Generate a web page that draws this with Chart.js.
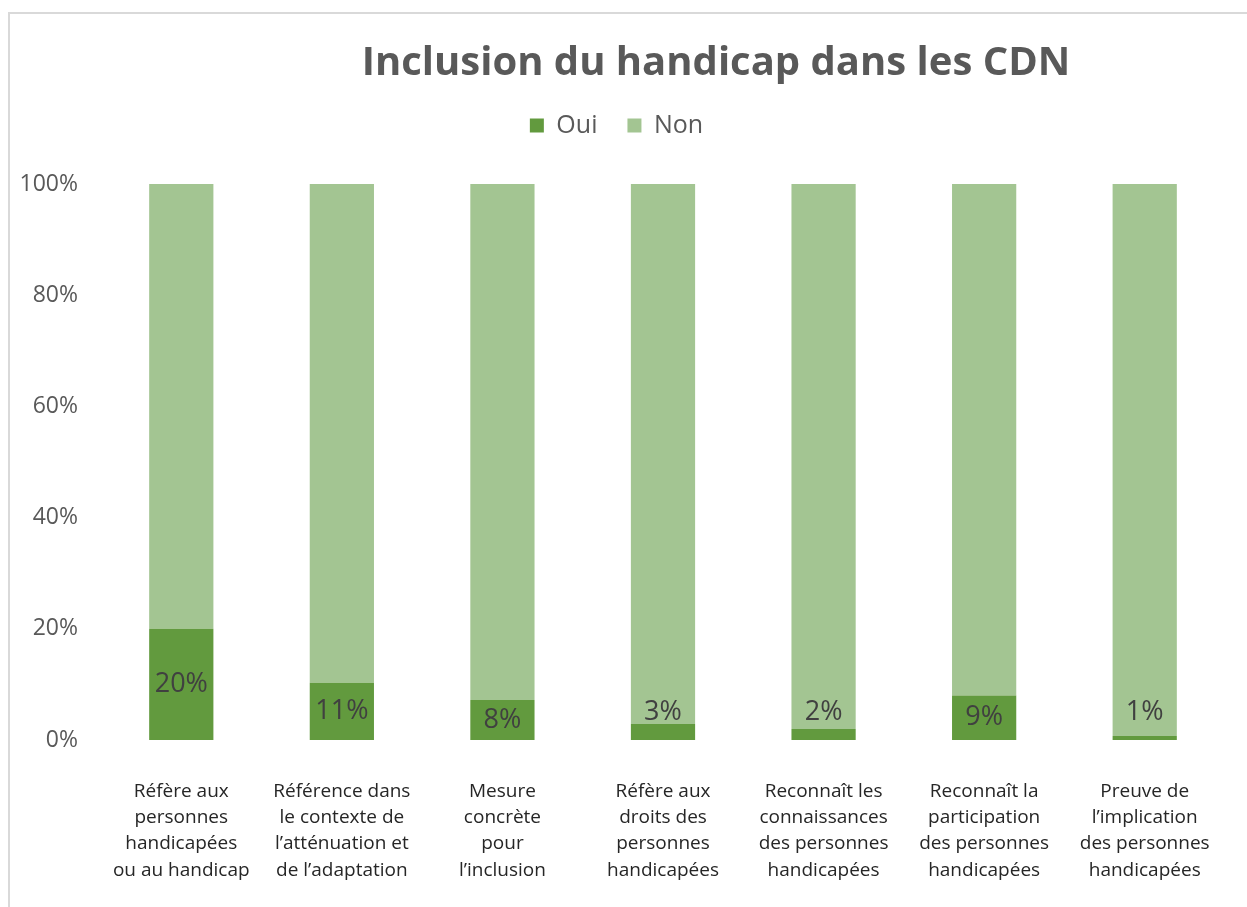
<!DOCTYPE html>
<html lang="fr">
<head>
<meta charset="utf-8">
<title>Inclusion du handicap dans les CDN</title>
<script src="https://cdn.jsdelivr.net/npm/chart.js@4.4.1/dist/chart.umd.min.js"></script>
<style>
  html, body { margin: 0; padding: 0; background: #ffffff; }
  #wrap { position: relative; width: 1247px; height: 907px; overflow: hidden; }
  #frame {
    position: absolute; left: 8px; top: 12px; width: 1300px; height: 1000px;
    border-left: 2px solid #d9d9d9; border-top: 2px solid #d9d9d9;
  }
  #chart { position: absolute; left: 0; top: 0; }
</style>
</head>
<body>
<div id="wrap">
  <div id="frame"></div>
  <canvas id="chart" width="1247" height="907"></canvas>
</div>
<script>
// Chart data
const categories = [
  ["Réfère aux", "personnes", "handicapées", "ou au handicap"],
  ["Référence dans", "le contexte de", "l’atténuation et", "de l’adaptation"],
  ["Mesure", "concrète", "pour", "l’inclusion"],
  ["Réfère aux", "droits des", "personnes", "handicapées"],
  ["Reconnaît les", "connaissances", "des personnes", "handicapées"],
  ["Reconnaît la", "participation", "des personnes", "handicapées"],
  ["Preuve de", "l’implication", "des personnes", "handicapées"],
];
// share of each bar (100% stacked)
const ouiShare = [20, 10.3, 7.2, 2.9, 2.0, 8.0, 0.7];
const nonShare = [80, 89.7, 92.8, 97.1, 98.0, 92.0, 99.3];
// data labels as printed on the chart
const ouiLabels = ["20%", "11%", "8%", "3%", "2%", "9%", "1%"];
const yTicks = [0, 20, 40, 60, 80, 100];

const FONT = "'Open Sans', Lato, sans-serif";
const GREY = "#595959";

// draws the chart title (offset to the right like the original)
const titlePlugin = {
  id: "offsetTitle",
  afterDraw(chart) {
    const ctx = chart.ctx;
    ctx.save();
    ctx.font = "bold 40px " + FONT;
    ctx.fillStyle = GREY;
    ctx.textAlign = "center";
    ctx.textBaseline = "middle";
    ctx.fillText("Inclusion du handicap dans les CDN", 716, 64);
    ctx.restore();
  },
};

// data labels inside the "Oui" segments
const labelPlugin = {
  id: "ouiLabels",
  afterDatasetsDraw(chart) {
    const ctx = chart.ctx;
    const meta = chart.getDatasetMeta(0);
    const base = chart.scales.y.getPixelForValue(0);
    ctx.save();
    ctx.font = "27px " + FONT;
    ctx.fillStyle = "#404040";
    ctx.textAlign = "center";
    ctx.textBaseline = "middle";
    meta.data.forEach((bar, i) => {
      const h = base - bar.y;
      const y = h < 30 ? base - 28 : (bar.y + base) / 2;
      ctx.fillText(ouiLabels[i], bar.x, y);
    });
    ctx.restore();
  },
};

// extra room under the legend
const legendSpace = {
  id: "legendSpace",
  beforeInit(chart) {
    const fit = chart.legend.fit;
    chart.legend.fit = function () {
      fit.bind(chart.legend)();
      this.height += 36;
    };
  },
};

new Chart(document.getElementById("chart"), {
  type: "bar",
  data: {
    labels: categories,
    datasets: [
      {
        label: "Oui",
        data: ouiShare,
        backgroundColor: "#629a3e",
        barPercentage: 0.4,
        categoryPercentage: 1,
      },
      {
        label: "Non",
        data: nonShare,
        backgroundColor: "#a3c592",
        barPercentage: 0.4,
        categoryPercentage: 1,
      },
    ],
  },
  options: {
    responsive: false,
    animation: false,
    layout: { padding: { top: 83, left: 8, right: 22, bottom: 0 } },
    plugins: {
      title: { display: false },
      tooltip: { enabled: false },
      legend: {
        position: "top",
        labels: {
          font: { family: FONT, size: 25 },
          color: GREY,
          boxWidth: 14,
          boxHeight: 14,
          padding: 30,
        },
      },
    },
    scales: {
      x: {
        stacked: true,
        afterFit(scale) {
          scale.height = 167;
        },
        grid: { display: false },
        border: { display: false },
        ticks: {
          font: { family: FONT, size: 19, lineHeight: 1.37 },
          color: "#262626",
          maxRotation: 0,
          autoSkip: false,
          padding: 31,
        },
      },
      y: {
        stacked: true,
        min: 0,
        max: 100,
        afterBuildTicks(scale) {
          scale.ticks = yTicks.map((v) => ({ value: v }));
        },
        afterFit(scale) {
          scale.width = 93;
        },
        grid: { display: false },
        border: { display: false },
        ticks: {
          font: { family: FONT, size: 23 },
          color: GREY,
          padding: 15,
          callback: (v) => v + "%",
        },
      },
    },
  },
  plugins: [titlePlugin, labelPlugin, legendSpace],
});
</script>
</body>
</html>
